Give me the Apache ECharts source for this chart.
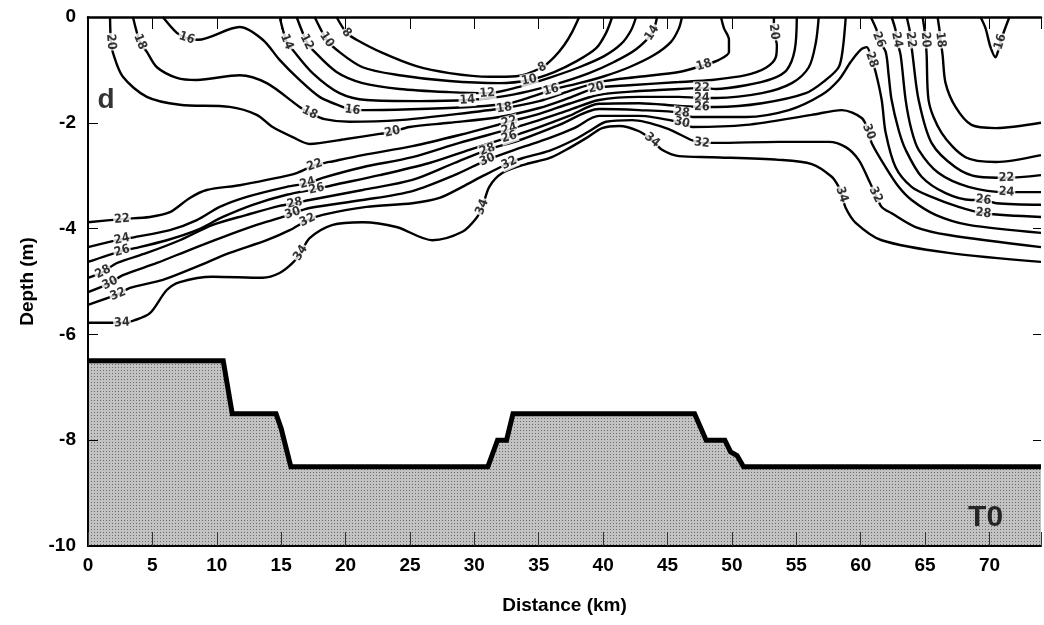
<!DOCTYPE html>
<html><head><meta charset="utf-8">
<script src="https://cdn.jsdelivr.net/npm/echarts@6/dist/echarts.min.js"></script>
<style>html,body{margin:0;padding:0;background:#fff}#c{width:1044px;height:625px}</style>
</head><body><div id="c"></div>
<script>
// ---- axes ----
const xMin = 0, xMax = 74, xStep = 5;
const yMin = -10, yMax = 0, yStep = 2;

// ---- bottom topography (km, depth m) ----
const bathyKm    = [0, 10.5, 11.2, 14.6, 15.0, 15.75, 31.05, 31.8, 32.5, 33.0, 47.1, 48.0, 49.45, 49.9, 50.4, 50.9, 74];
const bathyDepth = [-6.5, -6.5, -7.5, -7.5, -7.78, -8.5, -8.5, -8.0, -8.0, -7.5, -7.5, -8.0, -8.0, -8.22, -8.29, -8.5, -8.5];

// ---- salinity contours: [km, depth, labelFlag] ----
const c8 = [[19.3,0],[20.08,-0.30,1],[20.85,-0.43],[22.87,-0.68],[25.5,-0.93],[28.06,-1.06],[31.16,-1.13],[33.26,-1.12],[35.27,-0.95,1],[36.2,-0.76],[36.98,-0.53],[37.6,-0.28],[38.14,0]];
const c10 = [[17.6,0],[18.53,-0.43,1],[19.3,-0.62],[21.32,-0.95],[24.19,-1.10],[28.06,-1.21],[31.94,-1.25],[34.26,-1.19,1],[36.2,-1.04],[37.98,-0.83],[39.46,-0.59],[40.23,-0.30],[40.7,0]];
const c12 = [[16.2,0],[16.98,-0.47,1],[17.44,-0.62],[19.3,-1.04],[21.32,-1.25],[24.19,-1.36],[28.06,-1.42],[31.01,-1.44,1],[33.49,-1.32],[35.81,-1.15],[38.14,-0.95],[40.08,-0.74],[41.4,-0.51],[42.17,-0.25],[42.56,0]];
const c14 = [[14.88,0],[15.43,-0.47,1],[15.89,-0.62],[17.44,-1.06],[19.53,-1.44],[21.63,-1.57],[25.74,-1.59],[29.46,-1.57,1],[31.94,-1.51],[34.26,-1.40],[36.59,-1.25],[38.91,-1.06],[40.85,-0.85],[42.56,-0.61],[43.8,-0.30,1],[44.19,0]];
const c16 = [[5.81,0],[6.9,-0.30],[7.67,-0.40,1],[8.53,-0.43],[11.78,-0.19],[13.57,-0.43],[14.88,-0.81],[16.43,-1.19],[17.98,-1.51],[19.77,-1.70],[20.54,-1.76,1],[21.63,-1.76],[25.74,-1.74],[29.61,-1.70],[32.71,-1.63],[34.65,-1.49],[35.97,-1.38,1],[38.14,-1.25],[40.08,-1.12],[42.02,-0.95],[43.95,-0.72],[45.27,-0.47],[45.89,-0.21],[46.12,0]];
const c18 = [[3.49,0],[4.03,-0.47,1],[4.57,-0.66],[5.35,-0.95],[6.9,-1.15],[8.45,-1.19],[11.78,-1.10],[13.88,-1.25],[16.43,-1.70],[17.21,-1.81,1],[18.37,-1.93],[20.31,-1.98],[24.19,-1.95],[28.06,-1.85],[32.33,-1.72,1],[35.04,-1.59],[37.36,-1.40],[39.69,-1.23],[42.79,-1.13],[45.89,-1.04],[47.83,-0.91,1],[48.99,-0.81],[49.77,-0.66],[49.77,-0.43],[49.38,-0.21],[49.15,0]];
const c20 = [[1.71,0],[1.78,-0.47,1],[1.94,-0.68],[2.71,-1.13],[4.57,-1.51],[7.13,-1.66],[11.0,-1.70],[13.1,-1.85],[14.34,-2.08],[15.89,-2.27],[17.21,-2.40],[19.92,-2.31],[22.64,-2.21],[23.64,-2.17,1],[24.96,-2.08],[28.06,-2.00],[31.94,-1.89],[35.04,-1.72],[37.36,-1.53],[39.46,-1.34,1],[42.02,-1.29],[45.89,-1.23],[48.45,-1.19],[51.09,-1.10],[52.64,-0.96],[53.41,-0.76],[53.49,-0.53],[53.26,-0.28,1],[53.26,0]];
const c22 = [[0,-3.88],[2.64,-3.82,1],[4.81,-3.78],[6.36,-3.69],[7.91,-3.42],[9.22,-3.27],[11.78,-3.18],[13.88,-3.08],[16.2,-2.95],[17.6,-2.80,1],[18.76,-2.74],[21.32,-2.61],[25.19,-2.44],[28.84,-2.23],[32.71,-1.98,1],[35.04,-1.83],[37.36,-1.64],[39.69,-1.47],[42.79,-1.40],[45.89,-1.36],[47.67,-1.34,1],[48.76,-1.36],[51.09,-1.29],[53.1,-1.17],[54.26,-1.00],[54.88,-0.62],[55.04,0]];
const c24 = [[0,-4.35],[2.64,-4.20,1],[3.64,-4.16],[6.36,-4.03],[8.45,-3.84],[10.23,-3.59],[12.33,-3.40],[15.43,-3.21],[17.05,-3.14,1],[18.22,-3.04],[21.32,-2.84],[25.19,-2.65],[28.84,-2.38],[32.71,-2.12,1],[35.04,-1.95],[37.36,-1.76],[39.69,-1.57],[42.79,-1.51],[45.89,-1.51],[47.67,-1.53,1],[48.76,-1.53],[52.33,-1.44],[54.65,-1.25],[55.97,-0.95],[56.51,-0.49],[56.74,0]];
const c26 = [[0,-4.63],[2.64,-4.42,1],[3.64,-4.37],[6.12,-4.22],[8.45,-4.03],[10.47,-3.78],[12.79,-3.55],[15.43,-3.36],[17.75,-3.25,1],[18.99,-3.18],[22.64,-2.99],[26.51,-2.76],[29.61,-2.51],[32.71,-2.27,1],[35.04,-2.08],[37.36,-1.87],[39.69,-1.64],[42.79,-1.63],[45.89,-1.68],[47.67,-1.70,1],[48.76,-1.70],[52.33,-1.63],[55.74,-1.44],[57.29,-1.19],[58.29,-0.95],[58.6,-0.62],[58.84,0]];
const c28 = [[0,-4.93],[1.16,-4.82,1],[2.25,-4.65],[4.57,-4.46],[7.13,-4.22],[9.69,-3.93],[12.33,-3.74],[14.88,-3.57],[16.05,-3.52,1],[17.21,-3.46],[21.32,-3.27],[25.19,-3.08],[28.45,-2.76],[31.01,-2.51,1],[33.49,-2.33],[36.59,-2.04],[39.69,-1.74],[42.79,-1.76],[46.12,-1.81,1],[46.9,-1.89],[51.09,-1.89],[54.42,-1.76],[56.98,-1.47],[58.29,-1.19],[59.22,-0.85],[59.99,-0.62],[60.47,-0.57],[60.85,-0.81,1],[61.16,-1.04],[61.63,-1.57],[61.94,-2.19],[62.71,-2.84],[63.95,-3.21],[65.5,-3.40],[67.6,-3.59],[69.53,-3.71,1],[74,-3.78]];
const c30 = [[0,-5.20],[1.71,-5.03,1],[2.71,-4.88],[5.35,-4.65],[7.91,-4.40],[10.47,-4.16],[13.1,-3.93],[15.12,-3.78],[15.89,-3.71,1],[17.21,-3.61],[21.32,-3.46],[25.19,-3.29],[28.45,-2.99],[31.01,-2.70,1],[33.49,-2.48],[35.81,-2.29],[37.75,-2.10],[39.69,-1.87],[42.79,-1.87],[46.12,-2.00,1],[46.9,-2.08],[51.09,-2.04],[56.2,-1.85],[58.53,-1.76],[60.08,-1.91],[60.62,-2.17,1],[60.85,-2.38],[61.94,-2.84],[62.95,-3.21],[63.95,-3.46],[65.81,-3.74],[68.37,-3.93],[74,-4.08]];
const c32 = [[0,-5.44],[2.33,-5.24,1],[3.26,-5.12],[5.81,-4.97],[8.45,-4.72],[11.0,-4.46],[13.88,-4.22],[15.66,-4.03],[17.05,-3.84,1],[18.22,-3.74],[21.63,-3.59],[25.19,-3.52],[27.29,-3.42],[29.07,-3.21],[30.78,-2.99],[32.71,-2.76,1],[33.72,-2.67],[35.81,-2.53],[37.6,-2.34],[38.91,-2.16],[40.23,-1.98],[42.25,-1.95],[44.88,-2.10],[46.9,-2.33],[47.67,-2.38,1],[48.76,-2.38],[53.64,-2.36],[57.52,-2.36],[58.84,-2.46],[59.84,-2.70],[60.62,-3.08],[61.16,-3.36,1],[61.63,-3.59],[62.4,-3.71],[64.26,-3.97],[66.82,-4.12],[74,-4.35]];
const c34 = [[0,-5.78],[2.64,-5.78,1],[3.64,-5.73],[4.81,-5.60],[6.12,-5.16],[7.13,-5.01],[9.69,-4.91],[13.57,-4.93],[14.88,-4.84],[15.89,-4.65],[16.51,-4.46,1],[17.21,-4.18],[19.0,-3.93],[21.32,-3.88],[23.95,-3.97],[26.74,-4.22],[29.07,-4.06],[30.16,-3.80],[30.62,-3.59,1],[31.16,-3.21],[32.17,-2.95],[34.03,-2.78],[35.81,-2.67],[37.13,-2.51],[38.68,-2.29],[39.92,-2.10],[41.24,-2.06],[42.79,-2.16],[43.8,-2.33,1],[44.57,-2.51],[45.89,-2.63],[48.45,-2.65],[53.64,-2.70],[56.2,-2.78],[57.75,-3.02],[58.29,-3.21],[58.53,-3.36,1],[58.84,-3.61],[59.61,-3.89],[61.63,-4.22],[66.82,-4.46],[74,-4.63]];
// segments entering from the surface on the right side
const c26r = [[60.78,0],[61.24,-0.25],[61.4,-0.43,1],[61.94,-0.66],[62.17,-1.10],[62.4,-1.57],[62.95,-2.14],[63.49,-2.51],[64.73,-3.02],[66.59,-3.33],[68.6,-3.46],[69.53,-3.46,1],[70.54,-3.52],[74,-3.55]];
const c24r = [[62.4,0],[62.71,-0.25],[62.79,-0.43,1],[63.1,-0.72],[63.49,-1.57],[63.95,-2.14],[64.5,-2.51],[66.05,-2.95],[68.37,-3.21],[71.32,-3.31,1],[74,-3.31]];
const c22r = [[63.57,0],[63.8,-0.25],[63.88,-0.43,1],[64.03,-0.72],[64.5,-1.57],[65.5,-2.38],[67.36,-2.84],[69.15,-3.02],[71.32,-3.04,1],[74,-2.99]];
const c20r = [[64.81,0],[64.96,-0.25],[65.04,-0.43,1],[65.12,-0.72],[65.27,-1.57],[66.28,-2.19],[68.14,-2.65],[70.47,-2.74],[74,-2.61]];
const c18r = [[65.97,0],[66.12,-0.25],[66.2,-0.43,1],[66.36,-0.72],[66.59,-1.25],[67.36,-1.70],[68.6,-2.04],[70.47,-2.10],[74,-2.00]];
const c16r = [[69.3,0],[69.69,-0.21],[70.08,-0.57],[70.47,-0.76],[70.7,-0.62],[70.85,-0.47,1],[71.16,-0.25],[71.55,0]];

const contourLevels = [8,10,12,14,16,18,20,22,24,26,28,30,32,34,26,24,22,20,18,16];
const contourLines  = [c8,c10,c12,c14,c16,c18,c20,c22,c24,c26,c28,c30,c32,c34,c26r,c24r,c22r,c20r,c18r,c16r];

// ---- panel annotations [text, km, depth] ----
const panelText = [['d', 1.4, -1.57], ['T0', 69.7, -9.47]];

// ---- drawing ----
const chart = echarts.init(document.getElementById('c'), null, {renderer:'canvas'});
const FONT = "'Liberation Sans', Arial, Helvetica, sans-serif";
const LFONT = "'DejaVu Sans Condensed', 'Liberation Sans', Arial, sans-serif";

const pc = document.createElement('canvas'); pc.width = 3; pc.height = 3;
const g = pc.getContext('2d');
g.fillStyle = '#c2c2c2'; g.fillRect(0,0,3,3);
g.fillStyle = '#6e6e6e'; g.fillRect(1,1,1,1);

const series = [];
series.push({
  type:'line', data: bathyKm.map((k,i)=>[k,bathyDepth[i]]), showSymbol:false, silent:true,
  lineStyle:{color:'#000', width:5, join:'miter'},
  areaStyle:{color:{image:pc, repeat:'repeat'}, opacity:1, origin:'start'}, z:2, animation:false
});
contourLines.forEach((pts)=>{
  series.push({type:'line', data: pts.map(p=>[p[0],p[1]]), showSymbol:false, silent:true, smooth:0.3,
    lineStyle:{color:'#000', width:2.4}, z:3, animation:false});
});

const axisCommon = {type:'value', splitLine:{show:false}, z:10};
const option = {
  backgroundColor:'#fff', animation:false,
  grid:{left:88, top:17, right:0, bottom:79, containLabel:false},
  xAxis:[
    Object.assign({}, axisCommon, {min:xMin, max:xMax, interval:xStep, position:'bottom',
      axisLine:{onZero:false, lineStyle:{color:'#000', width:2}},
      axisTick:{inside:true, length:14, lineStyle:{color:'#333', width:1}},
      axisLabel:{color:'#000', fontSize:19, fontWeight:'bold', fontFamily:FONT, margin:10,
        formatter:(v)=> v > 72 ? '' : String(v)},
      name:'Distance (km)', nameLocation:'middle', nameGap:50,
      nameTextStyle:{color:'#000', fontSize:19, fontWeight:'bold', fontFamily:FONT}}),
    Object.assign({}, axisCommon, {min:xMin, max:xMax, interval:xStep, position:'top',
      axisLine:{onZero:false, lineStyle:{color:'#000', width:2.5}},
      axisTick:{inside:true, length:12, lineStyle:{color:'#000', width:1}},
      axisLabel:{show:false}})
  ],
  yAxis:[
    Object.assign({}, axisCommon, {min:yMin, max:yMax, interval:yStep, position:'left',
      axisLine:{onZero:false, lineStyle:{color:'#000', width:2}},
      axisTick:{inside:true, length:10, lineStyle:{color:'#000', width:1}},
      axisLabel:{color:'#000', fontSize:19, fontWeight:'bold', fontFamily:FONT, margin:12},
      name:'Depth (m)', nameLocation:'middle', nameGap:50, nameRotate:90,
      nameTextStyle:{color:'#000', fontSize:19, fontWeight:'bold', fontFamily:FONT}}),
    Object.assign({}, axisCommon, {min:yMin, max:yMax, interval:yStep, position:'right',
      axisLine:{show:false, onZero:false},
      axisTick:{inside:true, length:8, lineStyle:{color:'#000', width:1}},
      axisLabel:{show:false}})
  ],
  series: series
};
chart.setOption(option);

// contour labels, oriented along the local line direction
const labelData = [];
contourLines.forEach((pts, ci)=>{
  pts.forEach((p, i)=>{
    if (p[2] !== 1) return;
    const a = pts[Math.max(0,i-1)], b = pts[Math.min(pts.length-1,i+1)];
    const pa = chart.convertToPixel({gridIndex:0}, [a[0],a[1]]);
    const pb = chart.convertToPixel({gridIndex:0}, [b[0],b[1]]);
    let ang = Math.atan2(-(pb[1]-pa[1]), pb[0]-pa[0]) * 180 / Math.PI;
    if (ang > 90) ang -= 180;
    if (ang < -90) ang += 180;
    labelData.push({value:[p[0],p[1]], label:{rotate:ang, formatter:String(contourLevels[ci])}});
  });
});
series.push({type:'scatter', data:labelData, symbolSize:0, silent:true, z:5, animation:false,
  label:{show:true, position:'inside', color:'#000', fontSize:12.5, fontWeight:'bold', fontFamily:LFONT,
    textBorderWidth:0, backgroundColor:'#fff', padding:[0,1]}});
series.push({type:'scatter', data:panelText.map(t=>({value:[t[1],t[2]], label:{formatter:t[0], fontSize: t[0]==='d'?28:30}})),
  symbolSize:0, silent:true, z:6, animation:false,
  label:{show:true, position:'inside', color:'#000', fontWeight:'bold', fontFamily:FONT, textBorderWidth:0}});
chart.setOption({series: series});
</script></body></html>
